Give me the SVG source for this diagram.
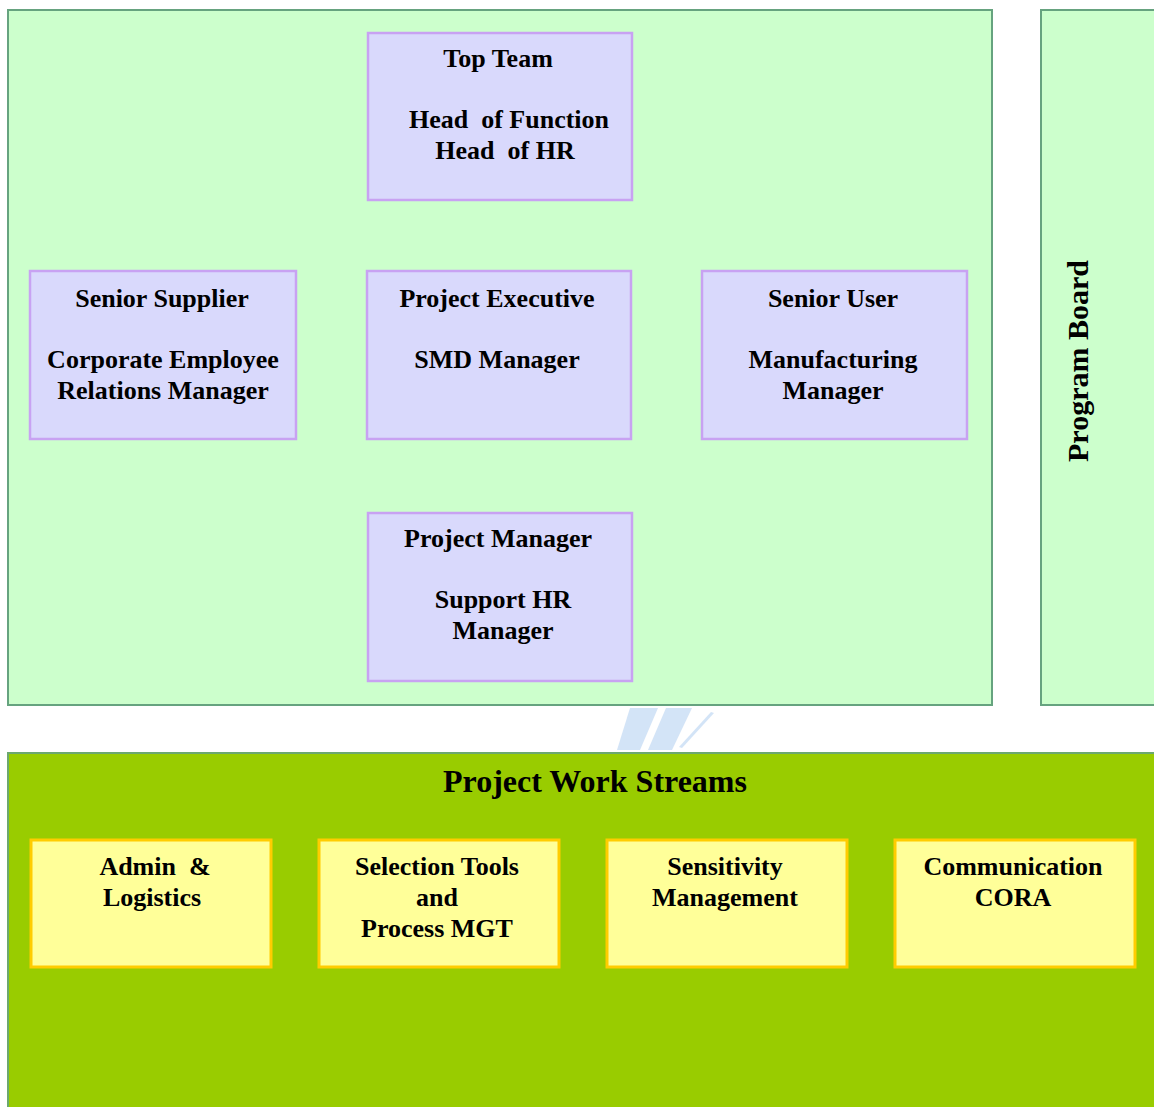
<svg xmlns="http://www.w3.org/2000/svg" width="1154" height="1107" viewBox="0 0 1154 1107">
<style>
.panel{fill:#CCFFCC;stroke:#66A37F;stroke-width:2}
.stream{fill:#99CC00;stroke:#6CA86F;stroke-width:2}
.role{fill:#D9D9FC;stroke:#C8A2F2;stroke-width:2.5}
.ws{fill:#FFFF99;stroke:#FFCC00;stroke-width:3}
text{font-family:"Liberation Serif","Times New Roman",serif;font-weight:bold;font-size:26px;fill:#000;text-anchor:middle;white-space:pre}
.big{font-size:32px}
.pb{font-size:30px}
</style>
<rect width="1154" height="1107" fill="#FFFFFF"/>
<g id="program-area">
<rect class="panel" x="8" y="10" width="984" height="695"/>
</g>
<g id="program-board">
<rect class="panel" x="1041" y="10" width="120" height="695"/>
<text class="pb" transform="translate(1088,361) rotate(-90)">Program Board</text>
</g>
<g id="watermark" fill="#B7D3F2" opacity="0.6">
<polygon points="630,708 658,708 640,750 617,750"/>
<polygon points="666,708 692,708 672,750 648,750"/>
<polygon points="711,712 714,713 682,748 679,747"/>
</g>
<g id="work-streams">
<rect class="stream" x="8" y="753" width="1160" height="370"/>
<text class="big" x="595" y="792">Project Work Streams</text>
</g>
<g id="connectors"></g>
<g id="top-team">
<rect class="role" x="368" y="33" width="264" height="167"/>
<text x="498" y="67">Top Team</text>
<text x="509" y="128">Head  of Function</text>
<text x="505" y="159">Head  of HR</text>
</g>
<g id="senior-supplier">
<rect class="role" x="30" y="271" width="266" height="168"/>
<text x="162" y="307">Senior Supplier</text>
<text x="163" y="368">Corporate Employee</text>
<text x="163" y="399">Relations Manager</text>
</g>
<g id="project-executive">
<rect class="role" x="367" y="271" width="264" height="168"/>
<text x="497" y="307">Project Executive</text>
<text x="497" y="368">SMD Manager</text>
</g>
<g id="senior-user">
<rect class="role" x="702" y="271" width="265" height="168"/>
<text x="833" y="307">Senior User</text>
<text x="833" y="368">Manufacturing</text>
<text x="833" y="399">Manager</text>
</g>
<g id="project-manager">
<rect class="role" x="368" y="513" width="264" height="168"/>
<text x="498" y="547">Project Manager</text>
<text x="503" y="608">Support HR</text>
<text x="503" y="639">Manager</text>
</g>
<g id="admin-logistics">
<rect class="ws" x="31" y="840" width="240" height="127"/>
<text x="155" y="875">Admin  &amp;</text>
<text x="152" y="906">Logistics</text>
</g>
<g id="selection-tools">
<rect class="ws" x="319" y="840" width="240" height="127"/>
<text x="437" y="875">Selection Tools</text>
<text x="437" y="906">and</text>
<text x="437" y="937">Process MGT</text>
</g>
<g id="sensitivity">
<rect class="ws" x="607" y="840" width="240" height="127"/>
<text x="725" y="875">Sensitivity</text>
<text x="725" y="906">Management</text>
</g>
<g id="communication">
<rect class="ws" x="895" y="840" width="240" height="127"/>
<text x="1013" y="875">Communication</text>
<text x="1013" y="906">CORA</text>
</g>
</svg>
